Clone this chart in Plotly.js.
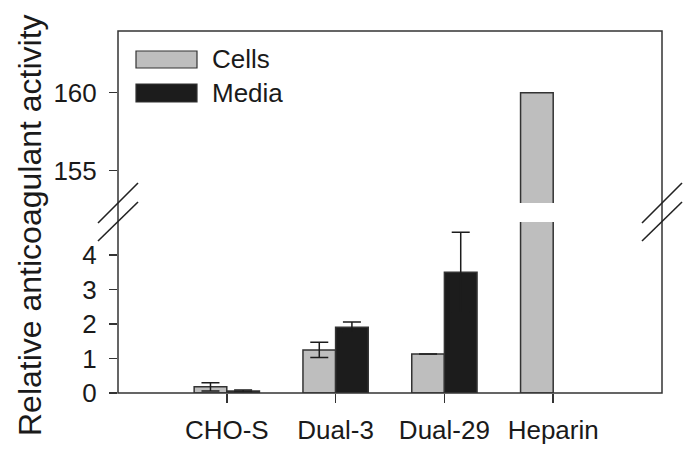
<!DOCTYPE html>
<html>
<head>
<meta charset="utf-8">
<script src="https://cdn.plot.ly/plotly-3.0.1.min.js"></script>
<style>
  html, body { margin: 0; padding: 0; background: #fff; }
  #chart { width: 700px; height: 461px; }
</style>
</head>
<body>
<div id="chart"></div>
<script>
// samples on the x axis
var samples = ["CHO-S", "Dual-3", "Dual-29", "Heparin"];

// relative anticoagulant activity
var cellsValues = [0.18, 1.25, 1.13, 160];
var cellsErrors = [0.12, 0.22, 0, 0];
var mediaValues = [0.06, 1.91, 3.5, null];
var mediaErrors = [0.03, 0.15, 1.16, 0];

// tick labels for the two halves of the broken axis
var lowerTicks = [0, 1, 2, 3, 4];
var upperTicks = [155, 160];

var grey = "#bebebe";
var black = "#1c1c1c";
var edge = "#333333";
var font = "Arial, 'Liberation Sans', sans-serif";

// builds one bar trace, on the lower or the upper y axis
function barTrace(name, values, errors, color, yaxis) {
    var trace = {
        type: "bar",
        name: name,
        x: samples,
        y: values,
        yaxis: yaxis,
        marker: { color: color, line: { color: edge, width: 1.5 } },
        showlegend: false,
        hoverinfo: "skip"
    };
    if (yaxis === "y") {
        trace.error_y = {
            type: "data",
            array: errors,
            visible: true,
            color: black,
            thickness: 1.5,
            width: 9
        };
    }
    return trace;
}

var data = [
    barTrace("Cells", cellsValues, cellsErrors, grey, "y"),
    barTrace("Media", mediaValues, mediaErrors, black, "y"),
    barTrace("Cells", cellsValues, cellsErrors, grey, "y2"),
    barTrace("Media", mediaValues, mediaErrors, black, "y2")
];

// converts pixel positions of the original figure into paper coordinates
function px(x) { return (x - 118) / 544; }
function py(y) { return (393 - y) / 362; }

// the // marks on both sides of the axis break
function slash(x0, y0, x1, y1) {
    return {
        type: "line", xref: "paper", yref: "paper",
        x0: px(x0), y0: py(y0), x1: px(x1), y1: py(y1),
        line: { color: "#222", width: 1.6 }
    };
}

// hand made legend swatch, the built-in one is too small here
function swatch(color, top, bottom) {
    return {
        type: "rect", xref: "paper", yref: "paper",
        x0: px(136), x1: px(197), y0: py(bottom), y1: py(top),
        fillcolor: color,
        line: { color: edge, width: 1.2 }
    };
}

var tickStyle = {
    ticks: "outside",
    ticklen: 8,
    tickwidth: 1.5,
    tickcolor: edge,
    showline: false,
    showgrid: false,
    zeroline: false,
    ticklabelstandoff: 7,
    tickfont: { family: font, size: 26, color: "#1a1a1a" }
};

var layout = {
    width: 700,
    height: 461,
    margin: { l: 118, r: 38, t: 31, b: 68 },
    paper_bgcolor: "#fff",
    plot_bgcolor: "#fff",
    barmode: "group",
    bargap: 0.4,
    bargroupgap: 0,
    showlegend: false,
    xaxis: Object.assign({}, tickStyle, {
        type: "category",
        range: [-1, 4],
        ticklen: 9,
        ticklabelstandoff: 5,
        anchor: "y"
    }),
    yaxis: Object.assign({}, tickStyle, {
        domain: [0, py(222)],
        range: [0, 4.96],
        tickvals: lowerTicks,
        anchor: "x"
    }),
    yaxis2: Object.assign({}, tickStyle, {
        domain: [py(203), 1],
        range: [152.93, 163.95],
        tickvals: upperTicks,
        anchor: "x"
    }),
    shapes: [
        // frame round the plot area
        {
            type: "rect", xref: "paper", yref: "paper",
            x0: 0, x1: 1, y0: 0, y1: 1,
            line: { color: edge, width: 1.5 }
        },
        slash(98, 223, 138, 183),
        slash(98, 241, 138, 202),
        slash(642, 223, 682, 183),
        slash(642, 241, 682, 202),
        swatch(grey, 51, 68),
        swatch(black, 84, 102)
    ],
    annotations: [
        {
            text: "Relative anticoagulant activity",
            xref: "paper", yref: "paper",
            x: px(30), y: py(225),
            xanchor: "center", yanchor: "middle",
            textangle: -90,
            showarrow: false,
            font: { family: font, size: 32, color: "#1a1a1a" }
        },
        {
            text: "Cells",
            xref: "paper", yref: "paper",
            x: px(210), y: py(59),
            xanchor: "left", yanchor: "middle",
            showarrow: false,
            font: { family: font, size: 26, color: "#1a1a1a" }
        },
        {
            text: "Media",
            xref: "paper", yref: "paper",
            x: px(210), y: py(93),
            xanchor: "left", yanchor: "middle",
            showarrow: false,
            font: { family: font, size: 26, color: "#1a1a1a" }
        }
    ]
};

Plotly.newPlot("chart", data, layout, { staticPlot: true });
</script>
</body>
</html>
